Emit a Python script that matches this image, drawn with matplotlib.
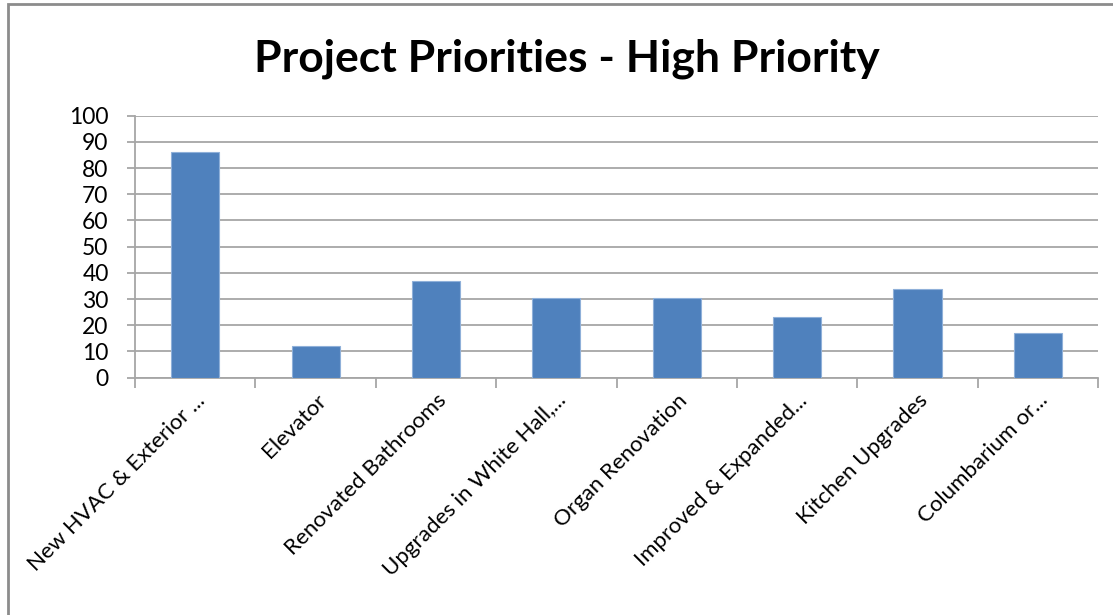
import matplotlib.pyplot as plt
from matplotlib.patches import Rectangle
from matplotlib.ticker import MultipleLocator

plt.rcParams['font.family'] = ['Lato', 'DejaVu Sans']

categories = [
  "New HVAC & Exterior ...",
  "Elevator",
  "Renovated Bathrooms",
  "Upgrades in White Hall,...",
  "Organ Renovation",
  "Improved & Expanded...",
  "Kitchen Upgrades",
  "Columbarium or...",
]
values = [86, 12, 37, 30.6, 30.6, 23, 33.8, 17]

BAR_COLOUR  = "#4f81bd"
EDGE_COLOUR = "#8fb0d9"
GRID_COLOUR = "#a6a6a6"

fig = plt.figure(figsize=(11.13, 6.15), dpi=100)
ax = fig.add_axes([0.1213, 0.3859, 0.8653, 0.4260])

# outer chart frame (runs off the right and bottom edges)
fig.patches.append(Rectangle((8/1113, -0.1), 1.2, 0.1 + (615-4)/615,
                             transform=fig.transFigure, fill=False,
                             edgecolor="#8c8c8c", linewidth=2.0))

x = range(len(categories))
ax.bar(x, values, width=0.4, color=BAR_COLOUR, edgecolor=EDGE_COLOUR,
       linewidth=0.8, zorder=3)

ax.set_xlim(-0.5, len(categories) - 0.5)
ax.set_ylim(0, 100)
ax.yaxis.set_major_locator(MultipleLocator(10))
ax.grid(axis="y", color=GRID_COLOUR, linewidth=1.3, zorder=0)

for side in ["top", "right"]:
  ax.spines[side].set_visible(False)
for side in ["left", "bottom"]:
  ax.spines[side].set_color(GRID_COLOUR)
  ax.spines[side].set_linewidth(1.3)

# category labels sit in the middle, tick marks on the boundaries
ax.set_xticks(list(x))
ax.set_xticklabels(categories, rotation=45, ha="right", va="top",
                   rotation_mode="anchor", fontsize=16)
ax.set_xticks([i - 0.5 for i in range(len(categories) + 1)], minor=True)
ax.tick_params(axis="x", which="major", length=0, pad=9)
ax.tick_params(axis="x", which="minor", length=7, width=1.3, color=GRID_COLOUR)
ax.tick_params(axis="y", length=6, width=1.3, color=GRID_COLOUR,
               labelsize=16.5, pad=13)

fig.text(0.509, 0.905, "Project Priorities - High Priority",
         ha="center", va="center", fontsize=32, fontweight="bold")

plt.savefig("out.png", dpi=100)
